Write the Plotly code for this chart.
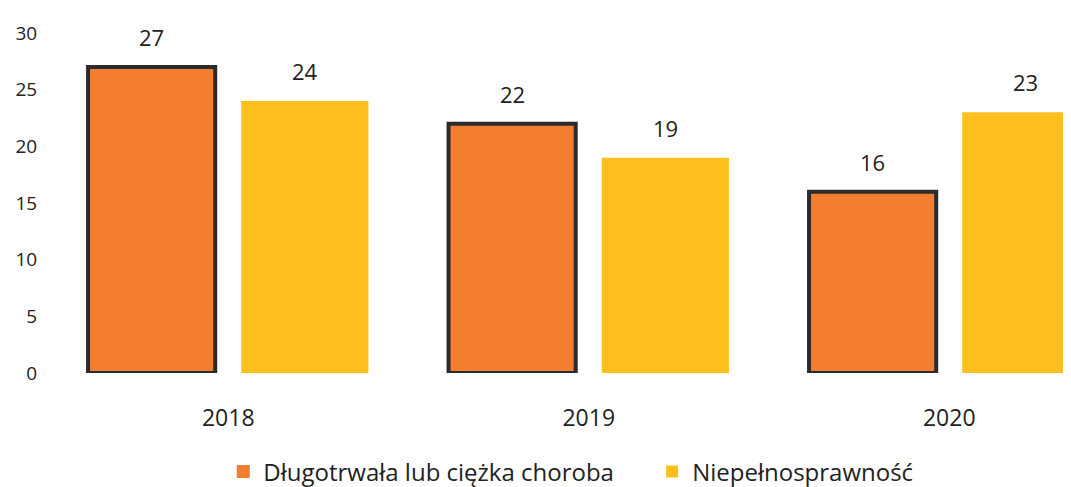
import plotly.graph_objects as go

years = ["2018", "2019", "2020"]
choroba = [27, 22, 16]
niepelno = [24, 19, 23]
series_names = ["Długotrwała lub ciężka choroba", "Niepełnosprawność"]
y_ticks = [0, 5, 10, 15, 20, 25, 30]

FONT = "Open Sans, Liberation Sans, sans-serif"
ORANGE = "#F47E2F"
YELLOW = "#FDBF1E"
L, R, T, B = 40, 0, 25, 117
W, H = 1071, 487
BARGAP = 0.15
GROUPGAP = 0.17
XMAX = 2.36

fig = go.Figure()
fig.add_trace(go.Bar(
    x=years, y=choroba, name=series_names[0], showlegend=False,
    marker=dict(color=ORANGE, line=dict(color="#2b2b2b", width=4)),
))
fig.add_trace(go.Bar(
    x=years, y=niepelno, name=series_names[1], legend="legend2",
    marker=dict(color=YELLOW, line=dict(width=0)),
))
# legend entry for the orange series (plain square without outline)
fig.add_trace(go.Scatter(
    x=[years[0]], y=[None], mode="markers", name=series_names[0], legend="legend",
    marker=dict(symbol="square", size=13, color=ORANGE), hoverinfo="skip",
))

# value labels above bars (category index positions on the category axis)
plot_w = W - L - R
cat_px = plot_w / (XMAX + 0.5)
offset = cat_px * (1 - BARGAP) / 4
for vals, sh in ((choroba, -offset), (niepelno, offset)):
    for i, v in enumerate(vals):
        fig.add_annotation(x=i, y=v, xref="x", yref="y", text=str(v), showarrow=False,
                           xshift=sh, yanchor="bottom", yshift=13,
                           font=dict(size=22, color="#222222", family=FONT))

fig.update_layout(
    width=W, height=H,
    margin=dict(l=L, r=R, t=T, b=B),
    paper_bgcolor="white", plot_bgcolor="white",
    barmode="group", bargap=BARGAP, bargroupgap=GROUPGAP,
    font=dict(family=FONT, size=18, color="#222222"),
    showlegend=True,
    legend=dict(orientation="h", x=0.170, xanchor="left", y=-0.225, yanchor="top",
                font=dict(size=24, family=FONT)),
    legend2=dict(orientation="h", x=0.586, xanchor="left", y=-0.225, yanchor="top",
                 font=dict(size=24, family=FONT)),
)
fig.update_xaxes(
    type="category", range=[-0.5, XMAX], showline=False, showgrid=False,
    ticks="outside", ticklen=24, tickcolor="rgba(0,0,0,0)",
    tickfont=dict(size=23, family=FONT),
)
fig.update_yaxes(
    range=[0, 30], tickvals=y_ticks, showgrid=False, zeroline=False, showline=False,
    ticks="outside", ticklen=6, tickcolor="rgba(0,0,0,0)",
    tickfont=dict(size=19, family=FONT),
)

fig.write_html("out.html")
